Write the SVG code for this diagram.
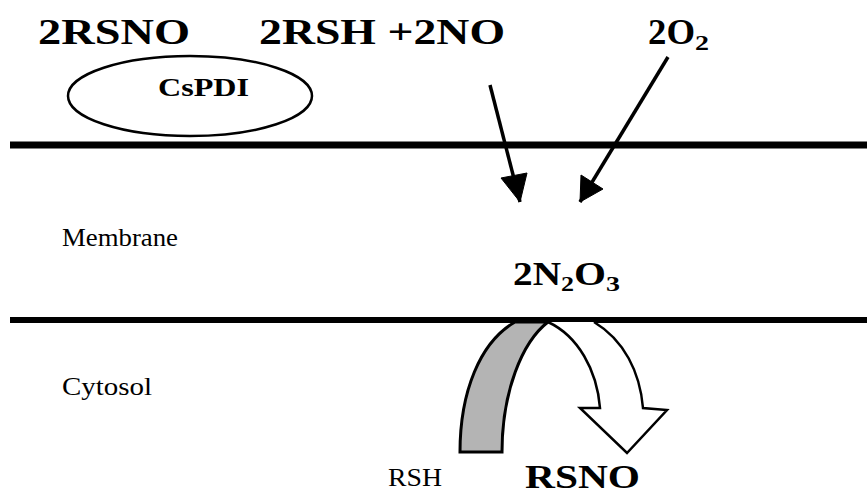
<svg xmlns="http://www.w3.org/2000/svg" width="867" height="497" viewBox="0 0 867 497">
<defs>
<style>
text{fill:#000}
.b{font-weight:bold}
</style>
</defs>
<rect width="867" height="497" fill="#fff"/>
<g id="membrane-lines">
<line x1="10" y1="145" x2="867" y2="145" stroke="#000" stroke-width="7"/>
<line x1="10" y1="320" x2="867" y2="320" stroke="#000" stroke-width="6"/>
</g>
<g id="labels" font-family="Liberation Serif, serif">
<text x="62" y="246" font-size="25" textLength="116" lengthAdjust="spacingAndGlyphs">Membrane</text>
<text x="62" y="395" font-size="25" textLength="90" lengthAdjust="spacingAndGlyphs">Cytosol</text>
</g>
<g id="rsno-top" font-family="Liberation Serif, serif">
<text class="b" x="38" y="44" font-size="35" textLength="152" lengthAdjust="spacingAndGlyphs">2RSNO</text>
</g>
<g id="cspdi" font-family="Liberation Serif, serif">
<ellipse cx="190" cy="96" rx="122" ry="40" fill="none" stroke="#000" stroke-width="2.5"/>
<text class="b" x="158" y="96" font-size="25" textLength="91" lengthAdjust="spacingAndGlyphs">CsPDI</text>
</g>
<g id="rsh-no" font-family="Liberation Serif, serif">
<text class="b" x="259" y="44" font-size="35" textLength="246" lengthAdjust="spacingAndGlyphs">2RSH +2NO</text>
</g>
<g id="o2" font-family="Liberation Serif, serif">
<text class="b" x="648" y="44" font-size="35"><tspan textLength="47" lengthAdjust="spacingAndGlyphs">2O</tspan><tspan font-size="22" dy="6" textLength="14" lengthAdjust="spacingAndGlyphs">2</tspan></text>
</g>
<g id="n2o3" font-family="Liberation Serif, serif">
<text class="b" x="513" y="285" font-size="34"><tspan textLength="48" lengthAdjust="spacingAndGlyphs">2N</tspan><tspan font-size="22" dy="6" textLength="13" lengthAdjust="spacingAndGlyphs">2</tspan><tspan dy="-6" textLength="32" lengthAdjust="spacingAndGlyphs">O</tspan><tspan font-size="22" dy="6" textLength="14" lengthAdjust="spacingAndGlyphs">3</tspan></text>
</g>
<g id="rsh-bottom" font-family="Liberation Serif, serif">
<text x="388" y="486" font-size="26" textLength="54" lengthAdjust="spacingAndGlyphs">RSH</text>
</g>
<g id="rsno-bottom" font-family="Liberation Serif, serif">
<text class="b" x="525" y="488" font-size="33" textLength="115" lengthAdjust="spacingAndGlyphs">RSNO</text>
</g>
<g id="connectors">
<path d="M490,85 L520,202" stroke="#000" stroke-width="3.5" fill="none"/>
<path d="M501,178 L520,202 L527,173 Z" fill="#000" stroke="#000" stroke-width="1"/>
<path d="M668,57 L580,202" stroke="#000" stroke-width="3.5" fill="none"/>
<path d="M581,175 L580,202 L603,189 Z" fill="#000" stroke="#000" stroke-width="1"/>
<path d="M460,452 C460,392 480,342 515,322 L548,322 C522,342 502,392 502,452 Z" fill="#b4b4b4" stroke="#000" stroke-width="3"/>
<path d="M548,322 C578,336 597,370 600,408 L580,408 L627,453 L667,410 L643,408 C640,372 624,340 594,322" fill="#fff" stroke="#000" stroke-width="2.5" stroke-linejoin="miter"/>
</g>
</svg>
